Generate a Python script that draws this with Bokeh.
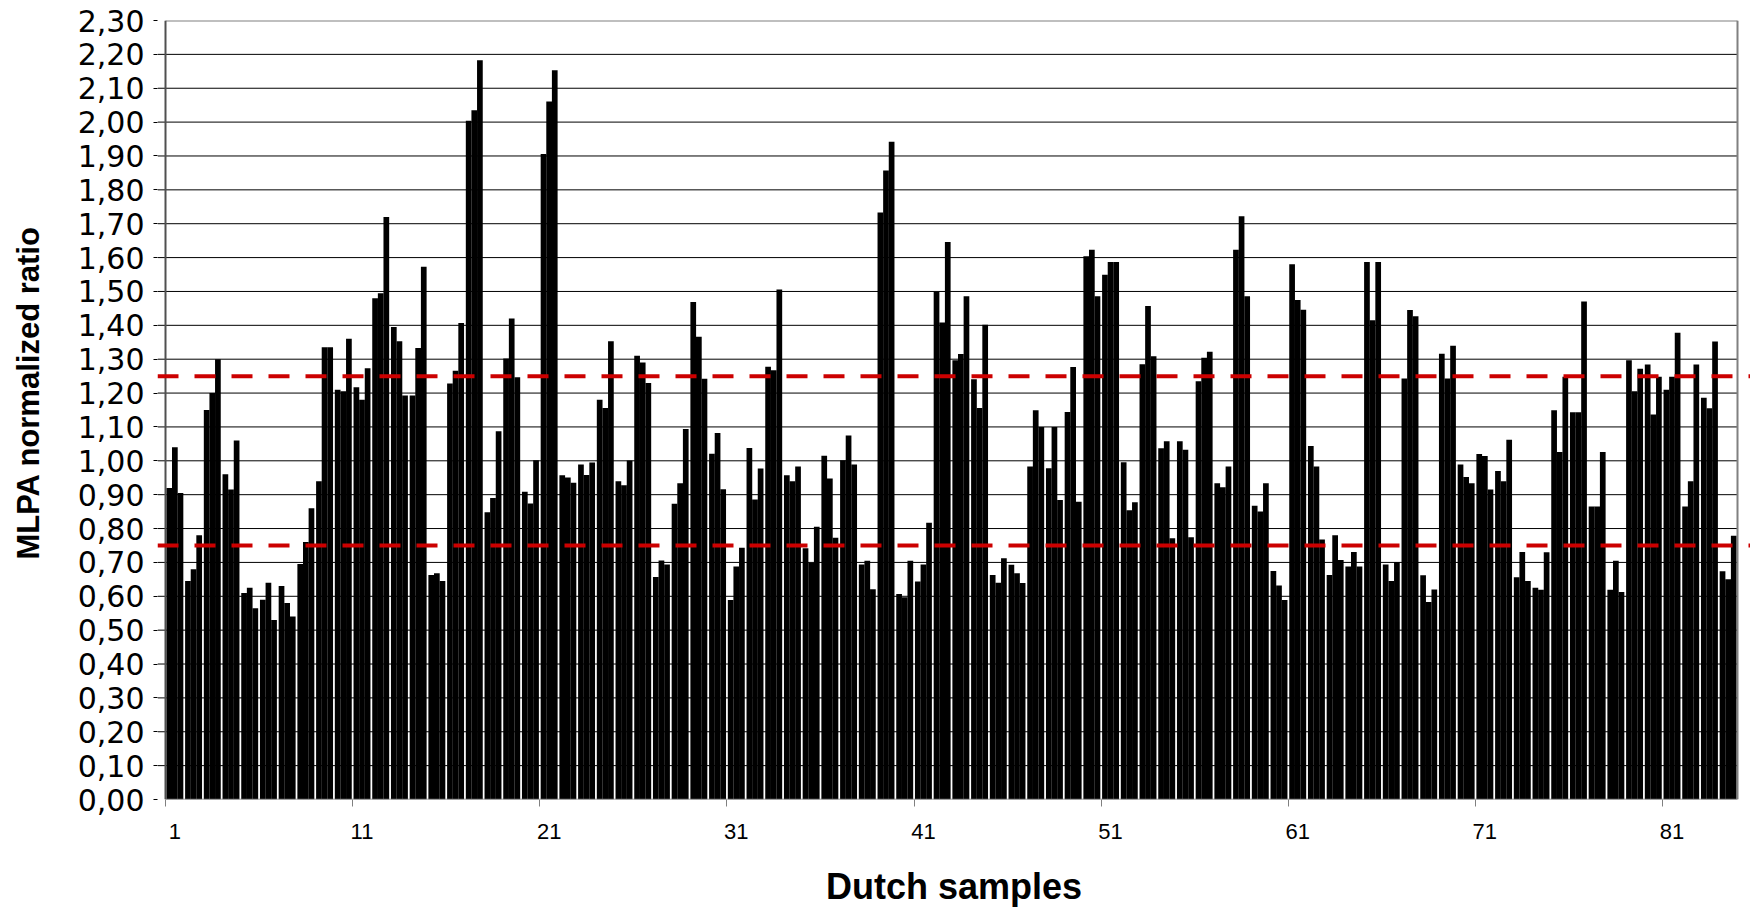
from bokeh.plotting import figure
from bokeh.models import FixedTicker, CustomJSTickFormatter, Span, Range1d
from bokeh.embed import file_html
from bokeh.resources import INLINE

# ---------------- data ----------------
samples = list(range(1, 85))
probe_a = [0.92, 0.645, 1.15, 0.96, 0.61, 0.59, 0.63, 0.695, 0.94, 1.21,
           1.217, 1.48, 1.395, 1.193, 0.663, 1.228, 2.004, 0.848, 1.302, 0.909,
           1.906, 0.957, 0.989, 1.18, 0.94, 1.31, 0.657, 0.873, 1.469, 1.021,
           0.589, 1.038, 1.278, 0.957, 0.742, 1.015, 1.002, 0.694, 1.733, 0.607,
           0.644, 1.499, 1.297, 1.241, 0.663, 0.693, 0.983, 0.978, 1.144, 1.604,
           1.549, 0.996, 1.285, 1.037, 1.058, 1.235, 0.934, 1.623, 0.867, 0.675,
           1.58, 1.044, 0.663, 0.688, 1.587, 0.694, 1.243, 0.662, 1.316, 0.989,
           1.02, 0.97, 0.656, 0.625, 1.149, 1.143, 0.865, 0.619, 1.297, 1.284,
           1.21, 0.865, 1.186, 0.674]
probe_b = [1.04, 0.68, 1.20, 0.915, 0.625, 0.64, 0.58, 0.76, 1.335, 1.205,
           1.18, 1.495, 1.353, 1.333, 0.668, 1.266, 2.035, 0.89, 1.42, 0.874,
           2.061, 0.951, 0.958, 1.156, 0.928, 1.29, 0.706, 0.934, 1.366, 1.082,
           0.688, 0.886, 1.267, 0.94, 0.699, 0.948, 1.075, 0.705, 1.857, 0.597,
           0.694, 1.408, 1.315, 1.156, 0.64, 0.668, 1.149, 1.1, 1.277, 1.623,
           1.587, 0.854, 1.457, 1.058, 1.033, 1.304, 0.922, 1.722, 0.85, 0.632,
           1.475, 0.983, 0.78, 0.731, 1.415, 0.645, 1.445, 0.583, 1.243, 0.952,
           1.014, 0.94, 0.731, 0.619, 1.026, 1.143, 0.865, 0.705, 1.205, 1.137,
           1.248, 0.94, 1.155, 0.65]
probe_c = [0.905, 0.78, 1.30, 1.06, 0.565, 0.53, 0.54, 0.86, 1.335, 1.36,
           1.273, 1.72, 1.193, 1.573, 0.645, 1.407, 2.183, 1.087, 1.247, 1.002,
           2.153, 0.935, 0.995, 1.353, 1.001, 1.23, 0.694, 1.094, 1.242, 0.916,
           0.743, 0.977, 1.506, 0.983, 0.805, 0.773, 0.989, 0.621, 1.942, 0.705,
           0.817, 1.646, 1.486, 1.402, 0.712, 0.639, 1.1, 0.884, 0.879, 1.486,
           1.587, 0.878, 1.309, 0.771, 0.774, 1.322, 0.983, 1.486, 0.934, 0.589,
           1.446, 0.768, 0.707, 0.688, 1.587, 0.701, 1.427, 0.62, 1.34, 0.934,
           0.915, 1.062, 0.645, 0.73, 1.248, 1.47, 1.026, 0.613, 1.272, 1.248,
           1.378, 1.284, 1.352, 0.779]
y_ticks = [round(i * 0.1, 2) for i in range(24)]
x_label_ticks = list(range(1, 85, 10))
upper_cutoff = 1.25
lower_cutoff = 0.75

# ---------------- layout ----------------
FRAME_L, FRAME_R = 157, 1750      # frame edges on the page
PLOT_L, PLOT_R = 165, 1737        # visible plot-area edges
n = len(samples)
ppu = (PLOT_R - PLOT_L) / n
x_lo = 0.5 - (PLOT_L - FRAME_L) / ppu
x_hi = n + 0.5 + (FRAME_R - PLOT_R) / ppu
y_top = y_ticks[-1]

p = figure(width=1750, height=909,
           x_range=Range1d(x_lo, x_hi), y_range=Range1d(0, y_top),
           output_backend="svg", toolbar_location=None,
           min_border_left=157, min_border_right=0,
           min_border_top=20, min_border_bottom=109)
p.outline_line_color = None
p.xgrid.visible = False
p.ygrid.visible = False
p.background_fill_color = "white"
p.border_fill_color = "white"

# gridlines (from frame edge to plot right edge)
inner = y_ticks[1:-1]
p.segment(x0=[x_lo] * len(inner), x1=[n + 0.5] * len(inner), y0=inner, y1=inner,
          line_color="black", line_width=1)

# bars: three probes per sample
w = 0.305
p.vbar(x=[s - 0.3 for s in samples], top=probe_a, width=w, bottom=0,
       fill_color="black", line_color=None)
p.vbar(x=samples, top=probe_b, width=w, bottom=0,
       fill_color="black", line_color=None)
p.vbar(x=[s + 0.3 for s in samples], top=probe_c, width=w, bottom=0,
       fill_color="black", line_color=None)

# plot-area border / axis lines
p.segment(x0=[0.5], x1=[n + 0.5], y0=[y_top], y1=[y_top], line_color="#808080", line_width=2)
p.segment(x0=[n + 0.5], x1=[n + 0.5], y0=[0], y1=[y_top], line_color="#808080", line_width=2)
p.segment(x0=[0.5], x1=[n + 0.5], y0=[0], y1=[0], line_color="#808080", line_width=1.5)
p.segment(x0=[0.5], x1=[0.5], y0=[0], y1=[y_top], line_color="#505050", line_width=2)

# cutoff lines
for loc in (upper_cutoff, lower_cutoff):
    p.add_layout(Span(location=loc, dimension="width", line_color="#CC0000",
                      line_width=4, line_dash="21 16"))

# x axis
xa = p.xaxis[0]
xa.ticker = FixedTicker(ticks=x_label_ticks,
                        minor_ticks=[0.5 + 10 * k for k in range(9)])
xa.axis_line_color = None
xa.major_tick_out = 0
xa.major_tick_in = 0
xa.minor_tick_out = 7
xa.minor_tick_in = 0
xa.minor_tick_line_color = "#808080"
xa.major_label_text_font = "Liberation Sans"
xa.major_label_text_font_size = "22px"
xa.major_label_text_color = "black"
xa.major_label_standoff = 17
xa.axis_label = "Dutch samples"
xa.axis_label_text_font = "Liberation Sans"
xa.axis_label_text_font_style = "bold"
xa.axis_label_text_font_size = "36px"
xa.axis_label_text_color = "black"
xa.axis_label_standoff = 24

# y axis
ya = p.yaxis[0]
ya.ticker = FixedTicker(ticks=y_ticks)
ya.formatter = CustomJSTickFormatter(code="return tick.toFixed(2).replace('.', ',');")
ya.axis_line_color = None
ya.major_tick_out = 4
ya.major_tick_in = 0
ya.major_tick_line_color = "black"
ya.minor_tick_line_color = None
ya.major_label_text_font = "DejaVu Sans"
ya.major_label_text_font_size = "30px"
ya.major_label_text_color = "black"
ya.major_label_standoff = 9
ya.axis_label = "\u00a0\u00a0\u00a0\u00a0MLPA normalized ratio"
ya.axis_label_text_font = "Liberation Sans"
ya.axis_label_text_font_style = "bold"
ya.axis_label_text_font_size = "31px"
ya.axis_label_text_color = "black"
ya.axis_label_standoff = 29

open("out.html", "w").write(file_html(p, INLINE))
